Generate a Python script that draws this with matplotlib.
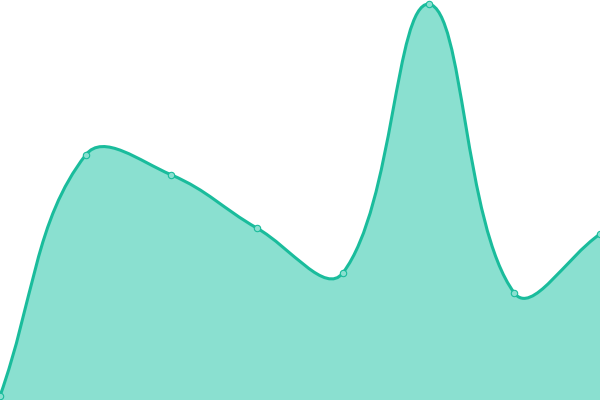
import numpy as np
import matplotlib
matplotlib.use("Agg")
import matplotlib.pyplot as plt
from matplotlib.path import Path
from matplotlib.patches import PathPatch

# data
categories = list(range(8))
values = [0.0, 61.5, 56.4, 42.8, 31.4, 100.0, 26.3, 41.3]

LINE = "#1abc9c"
FILL = "#8ae0d0"
TENSION = 0.4

fig = plt.figure(figsize=(6, 4), dpi=100)
fig.patch.set_facecolor("white")
ax = fig.add_axes([0, 4 / 400, 1, 392 / 400])
ax.set_xlim(0, len(categories) - 1)
ax.set_ylim(0, 100)
ax.axis("off")

# compute spline in display space (Chart.js-style tension)
P = ax.transData.transform(np.column_stack([categories, values]))
x0d, y0d = ax.transData.transform((0, 0))
x1d, y1d = ax.transData.transform((len(categories) - 1, 100))
n = len(P)
cps_prev = np.zeros_like(P)
cps_next = np.zeros_like(P)
for i in range(n):
    prev = P[i - 1] if i > 0 else P[i]
    cur = P[i]
    nxt = P[i + 1] if i < n - 1 else P[i]
    d01 = np.hypot(*(cur - prev))
    d12 = np.hypot(*(nxt - cur))
    s = d01 + d12
    s01 = d01 / s if s else 0
    s12 = d12 / s if s else 0
    cps_prev[i] = cur - TENSION * s01 * (nxt - prev)
    cps_next[i] = cur + TENSION * s12 * (nxt - prev)
# cap to chart area
for arr in (cps_prev, cps_next):
    arr[:, 0] = np.clip(arr[:, 0], x0d, x1d)
    arr[:, 1] = np.clip(arr[:, 1], y0d, y1d)

inv = ax.transData.inverted()
verts = [P[0]]
codes = [Path.MOVETO]
for i in range(1, n):
    verts += [cps_next[i - 1], cps_prev[i], P[i]]
    codes += [Path.CURVE4] * 3
verts_data = inv.transform(np.array(verts))

# fill
bottom = -5
fill_verts = list(verts_data) + [(categories[-1], bottom), (categories[0], bottom), verts_data[0]]
fill_codes = codes + [Path.LINETO, Path.LINETO, Path.CLOSEPOLY]
ax.add_patch(PathPatch(Path(fill_verts, fill_codes), facecolor=FILL, edgecolor="none",
                       clip_on=False, zorder=1))
ax.add_patch(PathPatch(Path(verts_data, codes), facecolor="none", edgecolor=LINE,
                       linewidth=2.2, clip_on=False, zorder=2, capstyle="round", joinstyle="round"))
ax.plot(categories, values, linestyle="none", marker="o", markersize=4.6,
        markerfacecolor=FILL, markeredgecolor=LINE, markeredgewidth=0.8,
        clip_on=False, zorder=3)

fig.savefig("out.png", dpi=100, facecolor="white")
